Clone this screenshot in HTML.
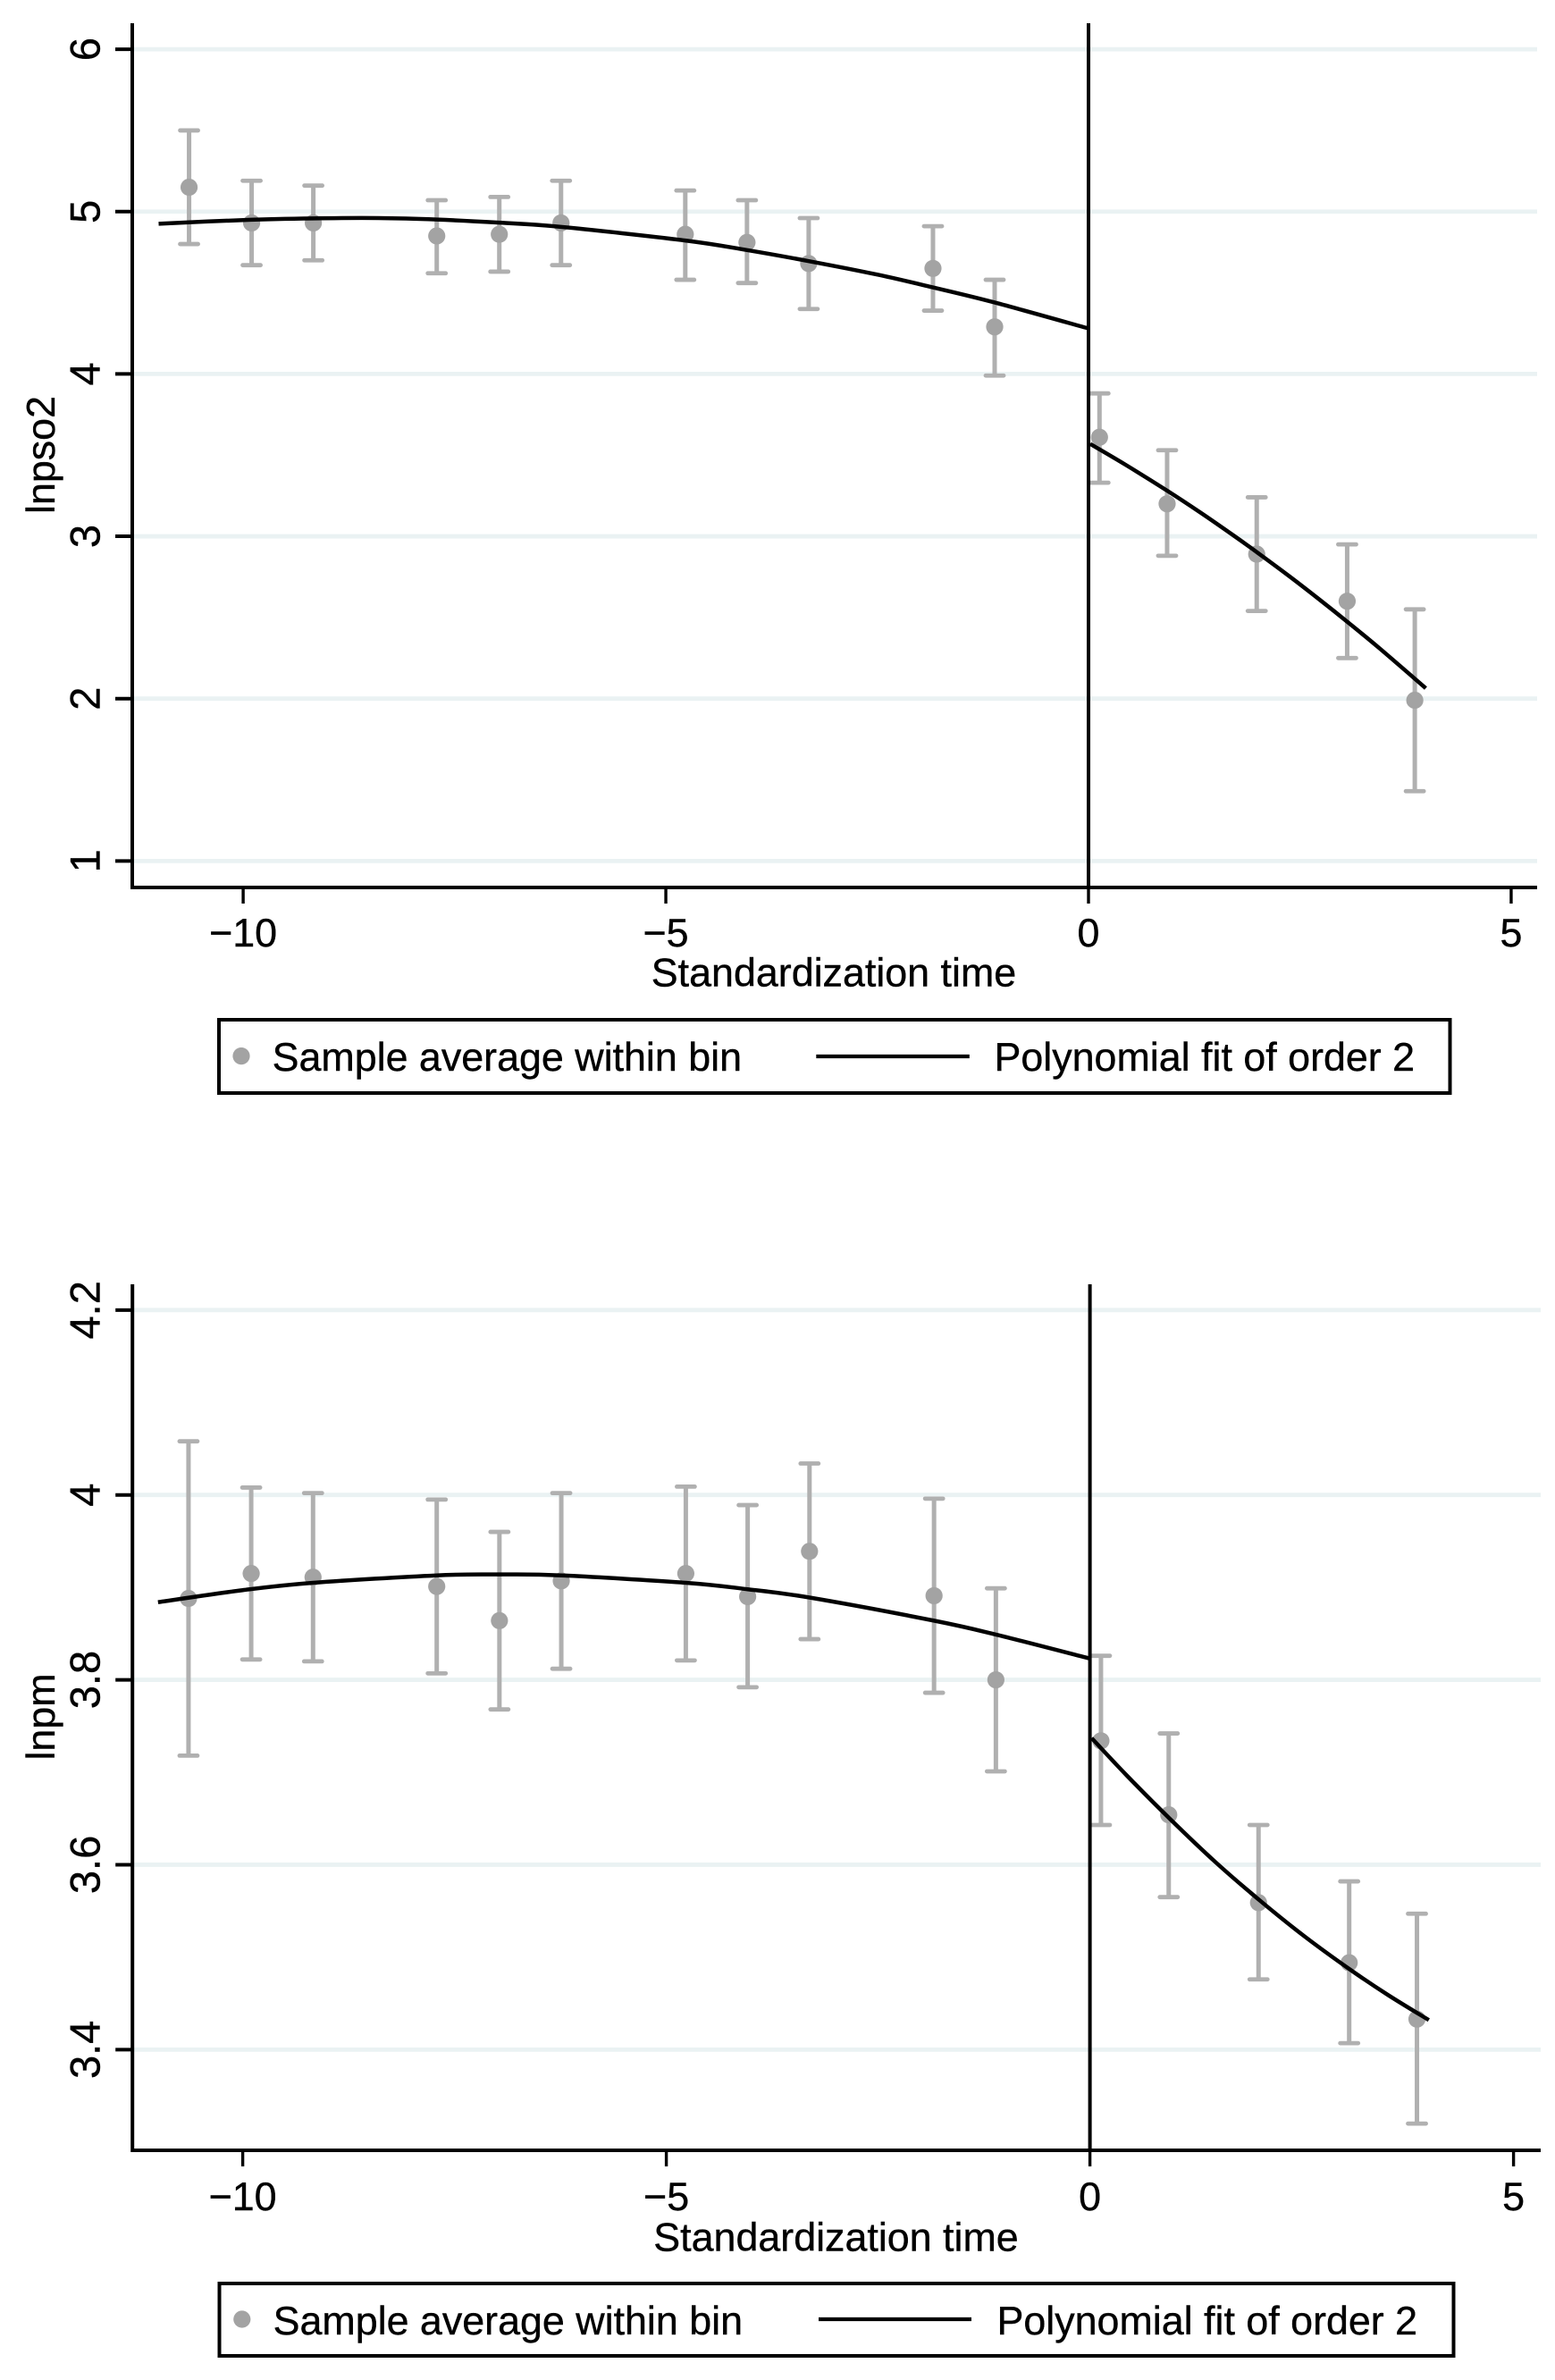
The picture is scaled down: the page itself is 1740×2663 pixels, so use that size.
<!DOCTYPE html>
<html lang="en">
<head>
<meta charset="utf-8">
<title>Regression discontinuity plots</title>
<style>
html,body{margin:0;padding:0;background:#fff}
svg{display:block}
text{font-family:"Liberation Sans",sans-serif;font-size:44.8px;fill:#000;stroke:#000;stroke-width:.4px}
</style>
</head>
<body>
<svg id="figure" xmlns="http://www.w3.org/2000/svg" width="1740" height="2663" viewBox="0 0 1740 2663">
  <rect x="0" y="0" width="1740" height="2663" fill="#fff"/>
  <g id="top-chart"></g>
  <g id="bottom-chart"></g>

  <text x="933" y="1103.5" text-anchor="middle">Standardization time</text>
  <text transform="translate(61,509) rotate(-90)" text-anchor="middle">lnpso2</text>
  <g>
    <rect x="245" y="1141" width="1377.5" height="82" fill="#fff" stroke="#000" stroke-width="4"/>
    <circle cx="270" cy="1181.6" r="9.6" fill="#a3a3a3"/>
    <text x="304.6" y="1198">Sample average within bin</text>
    <line x1="913.3" x2="1084.8" y1="1182" y2="1182" stroke="#000" stroke-width="4.3"/>
    <text x="1112.5" y="1198">Polynomial fit of order 2</text>
  </g>

  <text x="935.5" y="2518.5" text-anchor="middle">Standardization time</text>
  <text transform="translate(61,1921) rotate(-90)" text-anchor="middle">lnpm</text>
  <g>
    <rect x="245.5" y="2555" width="1381" height="81" fill="#fff" stroke="#000" stroke-width="4"/>
    <circle cx="270.8" cy="2595" r="9.6" fill="#a3a3a3"/>
    <text x="305.6" y="2612">Sample average within bin</text>
    <line x1="916" x2="1087" y1="2595" y2="2595" stroke="#000" stroke-width="4.3"/>
    <text x="1115.5" y="2612">Polynomial fit of order 2</text>
  </g>
</svg>

<script>
// Shared x data
const binTimes = [-10.64,-9.90,-9.17,-7.71,-6.97,-6.24,-4.77,-4.04,-3.31,-1.84,-1.11,0.13,0.93,1.99,3.06,3.86];
const xTickValues = [-10,-5,0,5];
const xTickLabels = ["\u221210","\u22125","0","5"];
const cutoffValue = 0;

// Top chart data (lnpso2)
const so2Means = [5.15,4.93,4.93,4.85,4.86,4.93,4.86,4.81,4.68,4.65,4.29,3.61,3.20,2.89,2.60,1.99];
const so2Upper = [5.50,5.19,5.16,5.07,5.09,5.19,5.13,5.07,4.96,4.91,4.58,3.88,3.53,3.24,2.95,2.55];
const so2Lower = [4.80,4.67,4.70,4.62,4.63,4.67,4.58,4.56,4.40,4.39,3.99,3.33,2.88,2.54,2.25,1.43];
const so2FitLeftX = [-11,-10,-9.17,-8.4,-7.71,-6.97,-6.24,-4.77,-4.04,-3.31,-2.5,-1.84,-1.11,0];
const so2FitLeftY = [4.925,4.948,4.958,4.96,4.951,4.932,4.906,4.822,4.763,4.695,4.612,4.533,4.44,4.28];
const so2FitRightX = [0.02,0.44,0.93,1.33,1.71,2.0,2.38,2.74,3.06,3.44,3.99];
const so2FitRightY = [3.569,3.44,3.281,3.144,3.007,2.899,2.752,2.607,2.474,2.311,2.064];
const so2TickValues = [1,2,3,4,5,6];
const so2TickLabels = ["1","2","3","4","5","6"];

// Bottom chart data (lnpm)
const pmMeans = [3.888,3.915,3.911,3.901,3.864,3.907,3.915,3.890,3.939,3.891,3.800,3.734,3.654,3.559,3.494,3.433];
const pmUpper = [4.058,4.008,4.002,3.995,3.960,4.002,4.009,3.989,4.034,3.996,3.899,3.826,3.742,3.643,3.582,3.547];
const pmLower = [3.718,3.822,3.820,3.807,3.768,3.812,3.821,3.792,3.844,3.786,3.701,3.643,3.565,3.476,3.407,3.320];
const pmFitLeftX = [-11,-10,-9.17,-7.71,-6.97,-6.24,-4.77,-4.04,-3.31,-1.84,-1.11,0];
const pmFitLeftY = [3.884,3.897,3.905,3.913,3.914,3.913,3.905,3.898,3.889,3.864,3.849,3.823];
const pmFitRightX = [0.02,0.43,0.94,1.48,2.01,2.54,3.08,3.52,4.0];
const pmFitRightY = [3.737,3.697,3.650,3.603,3.561,3.522,3.486,3.459,3.432];
const pmTickValues = [3.4,3.6,3.8,4,4.2];
const pmTickLabels = ["3.4","3.6","3.8","4","4.2"];

const SVG_NS = "http://www.w3.org/2000/svg";

function make(parent, tag, attrs, text) {
  const el = document.createElementNS(SVG_NS, tag);
  for (const key in attrs) el.setAttribute(key, attrs[key]);
  if (text !== undefined) el.textContent = text;
  parent.appendChild(el);
  return el;
}

// Smooth path through the given screen points (Catmull-Rom to cubic Bezier)
function smoothPath(pts) {
  let d = "M" + pts[0][0] + "," + pts[0][1];
  for (let i = 0; i < pts.length - 1; i++) {
    const p0 = pts[Math.max(i - 1, 0)];
    const p1 = pts[i];
    const p2 = pts[i + 1];
    const p3 = pts[Math.min(i + 2, pts.length - 1)];
    const c1x = p1[0] + (p2[0] - p0[0]) / 6;
    const c1y = p1[1] + (p2[1] - p0[1]) / 6;
    const c2x = p2[0] - (p3[0] - p1[0]) / 6;
    const c2y = p2[1] - (p3[1] - p1[1]) / 6;
    d += " C" + c1x + "," + c1y + " " + c2x + "," + c2y + " " + p2[0] + "," + p2[1];
  }
  return d;
}

function drawChart(root, frame, series) {
  const xA = v => frame.x0 + v * frame.xUnit;
  const yA = v => frame.yRefPx + (frame.yRefVal - v) * frame.yUnit;

  // Gridlines
  series.yTicks.forEach(v => {
    const el = make(root, "line", {x1: frame.left, x2: frame.right, y1: yA(v), y2: yA(v), stroke: "#eaf2f3", "stroke-width": 4.8});
    
    
  });

  // Error bars
  series.x.forEach((v, i) => {
    const bar = make(root, "line", {x1: xA(v), x2: xA(v), y1: yA(series.upper[i]), y2: yA(series.lower[i]), stroke: "#b0b0b0", "stroke-width": 5});
    
    
    [series.upper[i], series.lower[i]].forEach(c => {
      const cap = make(root, "line", {x1: xA(v) - 10, x2: xA(v) + 10, y1: yA(c), y2: yA(c), stroke: "#b0b0b0", "stroke-width": 4.8, "stroke-linecap": "round"});
      
      
    });
  });

  // Bin means
  series.x.forEach((v, i) => {
    const dot = make(root, "circle", {cx: xA(v), cy: yA(series.means[i]), r: 9.6, fill: "#a3a3a3"});
    
    
  });

  // Cutoff line
  const cut = make(root, "line", {x1: xA(cutoffValue), x2: xA(cutoffValue), y1: frame.top, y2: frame.bottom, stroke: "#000", "stroke-width": 4});
  
  

  // Fit curves
  const leftPts = series.fitLeftX.map((v, i) => [xA(v), yA(series.fitLeftY[i])]);
  const fitLeft = make(root, "path", {d: smoothPath(leftPts), fill: "none", stroke: "#000", "stroke-width": 4.5, "stroke-linejoin": "round"});
  
  
  const rightPts = series.fitRightX.map((v, i) => [xA(v), yA(series.fitRightY[i])]);
  const fitRight = make(root, "path", {d: smoothPath(rightPts), fill: "none", stroke: "#000", "stroke-width": 4.5, "stroke-linejoin": "round"});
  
  

  // Axis lines
  const yAxis = make(root, "line", {x1: frame.left, x2: frame.left, y1: frame.top, y2: frame.bottom + 2, stroke: "#000", "stroke-width": 4});
  
  
  const xAxis = make(root, "line", {x1: frame.left, x2: frame.right, y1: frame.bottom, y2: frame.bottom, stroke: "#000", "stroke-width": 4});
  
  

  // Y ticks and labels
  series.yTicks.forEach((v, i) => {
    const tick = make(root, "line", {x1: frame.left - 19, x2: frame.left, y1: yA(v), y2: yA(v), stroke: "#000", "stroke-width": 4});
    
    
    const label = make(root, "text", {transform: "translate(111.5," + yA(v) + ") rotate(-90)", "text-anchor": "middle", style: "font-size:47px"}, series.yLabels[i]);
    
    
  });

  // X ticks and labels
  xTickValues.forEach((v, i) => {
    const tick = make(root, "line", {x1: xA(v), x2: xA(v), y1: frame.bottom, y2: frame.bottom + 18, stroke: "#000", "stroke-width": 3.4});
    
    
    const label = make(root, "text", {x: xA(v), y: frame.xLabelY, "text-anchor": "middle"}, xTickLabels[i]);
    
    
  });
}

drawChart(document.getElementById("top-chart"),
  {x0: 1218, xUnit: 94.59, yRefVal: 6, yRefPx: 55.1, yUnit: 181.65, left: 148, right: 1720, top: 26, bottom: 993, xLabelY: 1059},
  {x: binTimes, means: so2Means, upper: so2Upper, lower: so2Lower,
   fitLeftX: so2FitLeftX, fitLeftY: so2FitLeftY, fitRightX: so2FitRightX, fitRightY: so2FitRightY,
   yTicks: so2TickValues, yLabels: so2TickLabels});

drawChart(document.getElementById("bottom-chart"),
  {x0: 1219.6, xUnit: 94.8, yRefVal: 4, yRefPx: 1672.7, yUnit: 1034.4, left: 148.2, right: 1724, top: 1437, bottom: 2406, xLabelY: 2473},
  {x: binTimes, means: pmMeans, upper: pmUpper, lower: pmLower,
   fitLeftX: pmFitLeftX, fitLeftY: pmFitLeftY, fitRightX: pmFitRightX, fitRightY: pmFitRightY,
   yTicks: pmTickValues, yLabels: pmTickLabels});
</script>
</body>
</html>
